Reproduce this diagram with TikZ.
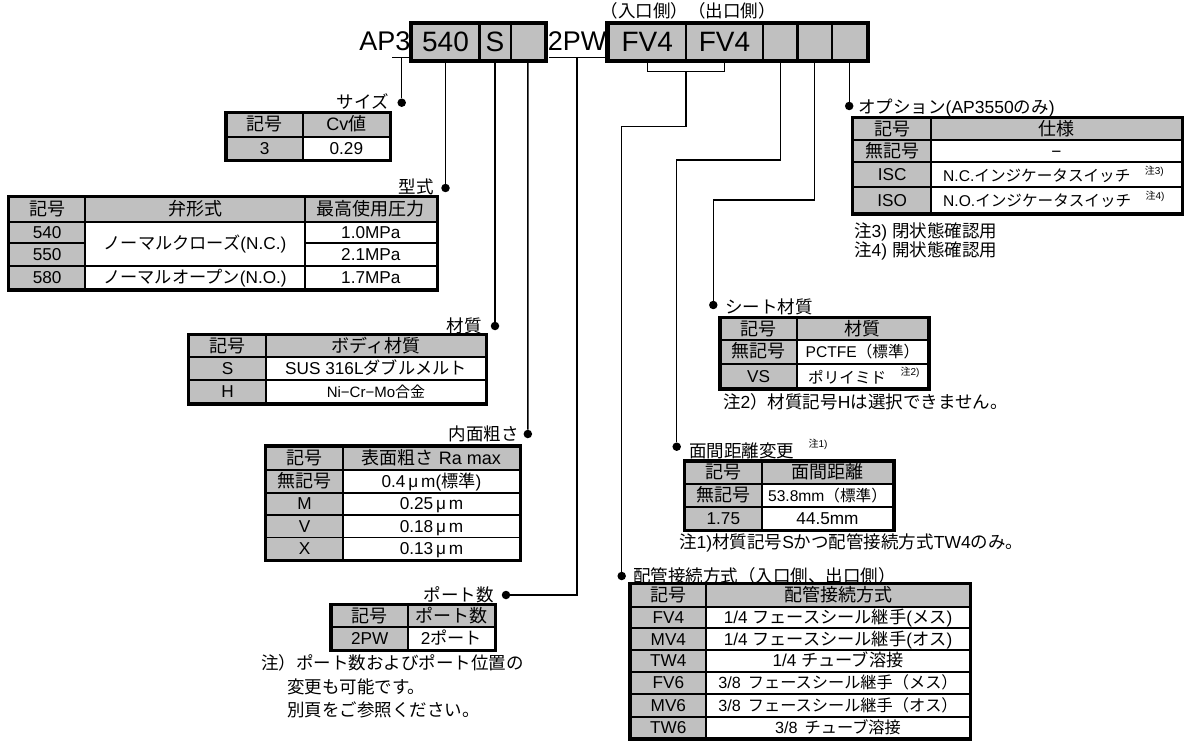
\documentclass[tikz,border=0pt]{standalone}
\usepackage{fontspec}
\setmainfont{Liberation Sans}
\newfontfamily\jpf{Noto Sans CJK JP}
\definecolor{cg}{HTML}{C0C0C0}
\XeTeXinterchartokenstate=1
\newXeTeXintercharclass\jpcls
\newcount\jpcnt
\def\setjprange#1#2{\jpcnt=#1\relax
  \loop\XeTeXcharclass\jpcnt=\jpcls\relax
  \ifnum\jpcnt<#2\relax\advance\jpcnt by 1\repeat}
\setjprange{"3000}{"30FF}
\setjprange{"4E00}{"9FFF}
\setjprange{"FF00}{"FFEF}
\XeTeXinterchartoks 0 \jpcls = {\jpf}
\XeTeXinterchartoks 4095 \jpcls = {\jpf}
\XeTeXinterchartoks \jpcls 0 = {\rmfamily}
\XeTeXinterchartoks \jpcls 4095 = {\rmfamily}
\newcommand\tabfont{\fontsize{17.2}{19}\selectfont}
\newcommand\hdfont{\fontsize{18}{20}\selectfont}
\newcommand\smfont{\fontsize{15.6}{17}\selectfont}
\newcommand\pipefont{\fontsize{16.2}{18}\selectfont}
\newcommand\lblfont{\fontsize{17.5}{19}\selectfont}
\newcommand\topfont{\fontsize{27}{29}\selectfont}
\newcommand\topcfont{\fontsize{28}{30}\selectfont}
\newcommand\supfont{\fontsize{10}{11}\selectfont}
\tikzset{
  tcell/.style={draw, line width=1.7pt, inner sep=0pt, font=\tabfont, text height=13.6pt, text depth=1.8pt},
  hd/.style={font=\hdfont},
  sm/.style={font=\smfont},
  pipe/.style={font=\pipefont},
  outerb/.style={line width=3pt},
  lead/.style={line width=1.3pt},
  dot/.style={circle, fill=black, inner sep=0pt, minimum size=8.5pt},
  lbl/.style={font=\lblfont, inner sep=0pt, text height=13.8pt, text depth=1.8pt},
  supl/.style={font=\supfont, inner sep=0pt},
  topc/.style={draw, line width=2.4pt, fill=cg, inner sep=0pt, font=\topcfont, minimum height=36pt, text height=19.5pt, text depth=0pt},
  toplbl/.style={font=\topfont, inner sep=0pt},
}
\newcommand\tabcell[8][]{\node[tcell, #1, fill=#7, minimum width={(#4)-(#3)}, minimum height={(#6)-(#5)}] (#2) at ({((#3)+(#4))/2},{((#5)+(#6))/2}) {#8};}
\newcommand\topcell[4]{\node[topc, minimum width={(#3)-(#2)}] (#1) at ({((#2)+(#3))/2},42) {#4};}
\begin{document}
\begin{tikzpicture}[x=1pt,y=-1pt]
\useasboundingbox (0,0) rectangle (1194,743);

% ---------- top code ----------
\node[toplbl, anchor=base east] (ap3) at (410.5,51) {AP3};
\topcell{c540}{411.7}{479.3}{540}
\topcell{cS}{479.3}{510.7}{S}
\topcell{e1}{510.7}{545}{}
\draw[line width=3.8pt] (c540.north west) rectangle (e1.south east);
\node[toplbl, anchor=base] (pw) at (577,51) {2PW};
\topcell{f1}{608.5}{686}{FV4}
\topcell{f2}{686}{763}{FV4}
\topcell{e2}{763}{797.3}{}
\topcell{e3}{797.3}{831.7}{}
\topcell{e4}{831.7}{866.7}{}
\draw[line width=3.8pt] (f1.north west) rectangle (e4.south east);
\node[lbl] (inout) at (688,12) {（入口側）（出口側）};

% underlines
\coordinate (u3a) at (392,57.5);
\coordinate (u3b) at (410,57.5);
\coordinate (u3m) at (401.7,57.5);
\draw[lead] (u3a) -- (u3b);
\coordinate (upa) at (549,57.5);
\coordinate (upb) at (605,57.5);
\coordinate (upm) at (577,57.5);
\draw[lead] (upa) -- (upb);

% dots
\node[dot] (dsize) at (401.7,102.7) {};
\node[dot] (dtype) at (445.5,188) {};
\node[dot] (dmat) at (495,326) {};
\node[dot] (drough) at (527.85,434) {};
\node[dot] (dport) at (506,595) {};
\node[dot] (dpipe) at (621.7,576) {};
\node[dot] (dgap) at (676.7,446.7) {};
\node[dot] (dseat) at (713.3,305) {};
\node[dot] (dopt) at (849.2,106) {};

% leaders
\draw[lead] (u3m) -- (dsize);
\draw[lead] (c540.south) -- (dtype);
\draw[lead] (cS.south) -- (dmat);
\draw[lead] (e1.south) -- (drough);
\draw[lead] (upm) |- (dport);
\coordinate (br1) at (647.25,71.7);
\coordinate (br2) at (724.5,71.7);
\coordinate (brm) at (685.9,71.7);
\coordinate (bend1) at (621.7,126.7);
\coordinate (bend2) at (676.7,160);
\coordinate (bend3) at (713.3,200);
\draw[lead] (f1.south) -- (br1) -- (br2) -- (f2.south);
\draw[lead] (brm) |- (bend1) -- (dpipe);
\draw[lead] (e2.south) |- (bend2) -- (dgap);
\draw[lead] (e3.south) |- (bend3) -- (dseat);
\draw[lead] (e4.south) -- (dopt);

% labels
\node[lbl, anchor=east] (lsize) at (389,103) {サイズ};
\node[lbl, anchor=east] (ltype) at (434,188) {型式};
\node[lbl, anchor=east] (lmat) at (482,326) {材質};
\node[lbl, anchor=east] (lrough) at (519,434) {内面粗さ};
\node[lbl, anchor=east] (lport) at (494,595) {ポート数};
\node[lbl, anchor=west] (lopt) at (858,108) {オプション(AP3550のみ)};
\node[lbl, anchor=west] (lseat) at (725,307) {シート材質};
\node[lbl, anchor=west] (lgap) at (689,451) {面間距離変更};
\node[supl, anchor=west] (lgaps) at ([xshift=14pt,yshift=7pt]lgap.east) {注1)};
\node[lbl, anchor=west] (lpipe) at (633,576) {配管接続方式（入口側、出口側）};

% ---------- size table ----------
\tabcell[hd]{s11}{226.7}{302.7}{113.3}{136.7}{cg}{記号}
\tabcell[hd]{s12}{302.7}{390}{113.3}{136.7}{cg}{Cv値}
\tabcell{s21}{226.7}{302.7}{136.7}{160}{cg}{3}
\tabcell{s22}{302.7}{390}{136.7}{160}{white}{0.29}
\draw[outerb] (s11.north west) rectangle (s22.south east);

% ---------- type table ----------
\tabcell[hd]{t11}{9.3}{85}{197.3}{221.7}{cg}{記号}
\tabcell[hd]{t12}{85}{305}{197.3}{221.7}{cg}{弁形式}
\tabcell[hd]{t13}{305}{436.7}{197.3}{221.7}{cg}{最高使用圧力}
\tabcell{t21}{9.3}{85}{221.7}{243.3}{cg}{540}
\tabcell{t22}{85}{305}{221.7}{265.7}{white}{ノーマルクローズ(N.C.)}
\tabcell{t23}{305}{436.7}{221.7}{243.3}{white}{1.0MPa}
\tabcell{t31}{9.3}{85}{243.3}{265.7}{cg}{550}
\tabcell{t33}{305}{436.7}{243.3}{265.7}{white}{2.1MPa}
\tabcell{t41}{9.3}{85}{265.7}{289.3}{cg}{580}
\tabcell{t42}{85}{305}{265.7}{289.3}{white}{ノーマルオープン(N.O.)}
\tabcell{t43}{305}{436.7}{265.7}{289.3}{white}{1.7MPa}
\draw[outerb] (t11.north west) rectangle (t43.south east);

% ---------- material table ----------
\tabcell[hd]{m11}{189.3}{266}{335}{357.3}{cg}{記号}
\tabcell[hd]{m12}{266}{486}{335}{357.3}{cg}{ボディ材質}
\tabcell{m21}{189.3}{266}{357.3}{380}{cg}{S}
\tabcell{m22}{266}{486}{357.3}{380}{white}{SUS 316Lダブルメルト}
\tabcell{m31}{189.3}{266}{380}{403.3}{cg}{H}
\tabcell{m32}{266}{486}{380}{403.3}{white}{\fontsize{15}{16}\selectfont Ni−Cr−Mo合金}
\draw[outerb] (m11.north west) rectangle (m32.south east);

% ---------- roughness table ----------
\tabcell[hd]{r11}{266}{343}{446.7}{470}{cg}{記号}
\tabcell[hd]{r12}{343}{520}{446.7}{470}{cg}{表面粗さ Ra max}
\tabcell[hd]{r21}{266}{343}{470}{492.7}{cg}{無記号}
\tabcell{r22}{343}{520}{470}{492.7}{white}{0.4\,μ\,m(標準)}
\tabcell{r31}{266}{343}{492.7}{515}{cg}{M}
\tabcell{r32}{343}{520}{492.7}{515}{white}{0.25\,μ\,m}
\tabcell{r41}{266}{343}{515}{537.5}{cg}{V}
\tabcell{r42}{343}{520}{515}{537.5}{white}{0.18\,μ\,m}
\tabcell{r51}{266}{343}{537.5}{560}{cg}{X}
\tabcell{r52}{343}{520}{537.5}{560}{white}{0.13\,μ\,m}
\draw[outerb] (r11.north west) rectangle (r52.south east);

% ---------- port table ----------
\tabcell[hd]{p11}{331.7}{407.7}{605}{627.3}{cg}{記号}
\tabcell[hd]{p12}{407.7}{495}{605}{627.3}{cg}{ポート数}
\tabcell{p21}{331.7}{407.7}{627.3}{650}{cg}{2PW}
\tabcell{p22}{407.7}{495}{627.3}{650}{white}{2ポート}
\draw[outerb] (p11.north west) rectangle (p22.south east);
\node[lbl, anchor=west] (pn1) at (261,663.5) {注）ポート数およびポート位置の};
\node[lbl, anchor=west] (pn2) at (287,687) {変更も可能です。};
\node[lbl, anchor=west] (pn3) at (287,710) {別頁をご参照ください。};

% ---------- option table ----------
\tabcell[hd]{o11}{853.3}{931}{118.3}{140}{cg}{記号}
\tabcell[hd]{o12}{931}{1181.7}{118.3}{140}{cg}{仕様}
\tabcell[hd]{o21}{853.3}{931}{140}{162.3}{cg}{無記号}
\tabcell{o22}{931}{1181.7}{140}{162.3}{white}{−}
\tabcell{o31}{853.3}{931}{162.3}{187.3}{cg}{ISC}
\tabcell{o32}{931}{1181.7}{162.3}{187.3}{white}{}
\tabcell{o41}{853.3}{931}{187.3}{213.3}{cg}{ISO}
\tabcell{o42}{931}{1181.7}{187.3}{213.3}{white}{}
\draw[outerb] (o11.north west) rectangle (o42.south east);
\node[lbl, sm, anchor=west] (o32t) at (943,176) {N.C.インジケータスイッチ};
\node[supl, anchor=west] (o32s) at ([xshift=14pt,yshift=5pt]o32t.east) {注3)};
\node[lbl, sm, anchor=west] (o42t) at (943,201) {N.O.インジケータスイッチ};
\node[supl, anchor=west] (o42s) at ([xshift=14pt,yshift=5pt]o42t.east) {注4)};
\node[lbl, anchor=west] (on3) at (854,232) {注3) 閉状態確認用};
\node[lbl, anchor=west] (on4) at (854,251) {注4) 開状態確認用};

% ---------- seat table ----------
\tabcell[hd]{h11}{720.7}{796.7}{318.3}{340}{cg}{記号}
\tabcell[hd]{h12}{796.7}{928.3}{318.3}{340}{cg}{材質}
\tabcell[hd]{h21}{720.7}{796.7}{340}{364}{cg}{無記号}
\tabcell[sm]{h22}{796.7}{928.3}{340}{364}{white}{PCTFE（標準）}
\tabcell{h31}{720.7}{796.7}{364}{388.3}{cg}{VS}
\tabcell{h32}{796.7}{928.3}{364}{388.3}{white}{}
\draw[outerb] (h11.north west) rectangle (h32.south east);
\node[lbl, sm, anchor=west] (h32t) at (808,377) {ポリイミド};
\node[supl, anchor=west] (h32s) at ([xshift=14pt,yshift=5pt]h32t.east) {注2)};
\node[lbl, anchor=west] (hn) at (723,402) {注2）材質記号Hは選択できません。};

% ---------- face-to-face table ----------
\tabcell[hd]{g11}{685}{761.7}{461.7}{484}{cg}{記号}
\tabcell[hd]{g12}{761.7}{893.3}{461.7}{484}{cg}{面間距離}
\tabcell[hd]{g21}{685}{761.7}{484}{506.7}{cg}{無記号}
\tabcell[sm]{g22}{761.7}{893.3}{484}{506.7}{white}{53.8mm（標準）}
\tabcell{g31}{685}{761.7}{506.7}{530}{cg}{1.75}
\tabcell{g32}{761.7}{893.3}{506.7}{530}{white}{44.5mm}
\draw[outerb] (g11.north west) rectangle (g32.south east);
\node[lbl, anchor=west] (gn) at (679,542) {注1)材質記号Sかつ配管接続方式TW4のみ。};

% ---------- pipe table ----------
\tabcell[hd]{k11}{630.7}{706}{584}{606.7}{cg}{記号}
\tabcell[hd]{k12}{706}{970}{584}{606.7}{cg}{配管接続方式}
\tabcell{k21}{630.7}{706}{606.7}{628.3}{cg}{FV4}
\tabcell{k22}{706}{970}{606.7}{628.3}{white}{1/4 フェースシール継手(メス)}
\tabcell{k31}{630.7}{706}{628.3}{650}{cg}{MV4}
\tabcell{k32}{706}{970}{628.3}{650}{white}{1/4 フェースシール継手(オス)}
\tabcell{k41}{630.7}{706}{650}{671.7}{cg}{TW4}
\tabcell{k42}{706}{970}{650}{671.7}{white}{1/4 チューブ溶接}
\tabcell{k51}{630.7}{706}{671.7}{694.3}{cg}{FV6}
\tabcell[pipe]{k52}{706}{970}{671.7}{694.3}{white}{3/8\hspace{7pt}フェースシール継手（メス）}
\tabcell{k61}{630.7}{706}{694.3}{716.7}{cg}{MV6}
\tabcell[pipe]{k62}{706}{970}{694.3}{716.7}{white}{3/8\hspace{7pt}フェースシール継手（オス）}
\tabcell{k71}{630.7}{706}{716.7}{738.3}{cg}{TW6}
\tabcell[pipe]{k72}{706}{970}{716.7}{738.3}{white}{3/8\hspace{7pt}チューブ溶接}
\draw[outerb] (k11.north west) rectangle (k72.south east);
\end{tikzpicture}
\end{document}
